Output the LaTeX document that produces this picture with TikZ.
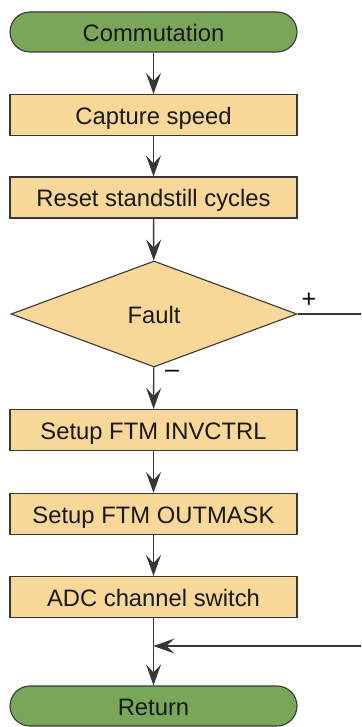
\documentclass[tikz,border=0pt]{standalone}
\usepackage{fontspec}
\setmainfont{Liberation Sans}
\usetikzlibrary{shapes.geometric,arrows.meta}
\definecolor{termgreen}{RGB}{122,166,90}
\definecolor{boxtan}{RGB}{247,216,152}
\definecolor{edge}{RGB}{55,55,55}
\begin{document}
\begin{tikzpicture}[x=1pt,y=-1pt,
  txt/.style={font=\fontsize{23.8}{26}\selectfont, text=black!90, text height=19pt, text depth=0pt},
  term/.style={txt, draw=edge, line width=1.1pt, fill=termgreen, rounded corners=20pt,
    minimum width=287pt, minimum height=40pt, inner sep=0pt},
  proc/.style={txt, draw=edge, line width=1.1pt, fill=boxtan,
    minimum width=287pt, minimum height=41pt, inner sep=0pt},
  dec/.style={txt, diamond, draw=edge, line width=1.1pt, fill=boxtan,
    minimum width=286pt, minimum height=106pt, inner sep=0pt},
  flow/.style={draw=edge, line width=1.4pt, -{Stealth[length=21pt,width=15pt,inset=8pt]}},
  line/.style={draw=edge, line width=1.4pt},
  sign/.style={font=\fontsize{25}{27}\selectfont, inner sep=0pt}]
\useasboundingbox (0,0) rectangle (361,727);
\node[term] (start) at (153.5,32) {Commutation};
\node[proc] (capt) at (153.5,115) {Capture speed};
\node[proc] (reset) at (153.5,197.5) {Reset standstill cycles};
\node[dec] (fault) at (154,314) {Fault};
\node[proc] (inv) at (153.5,430) {Setup FTM INVCTRL};
\node[proc] (mask) at (153.5,514) {Setup FTM OUTMASK};
\node[proc] (adc) at (153.5,597) {ADC channel switch};
\node[term] (ret) at (153.5,706) {Return};
\coordinate (faultout) at (361,314);
\coordinate (joinin) at (361,646);
\coordinate (join) at (153.5,646);
\path[flow] (start) -- (capt);
\path[flow] (capt) -- (reset);
\path[flow] (reset) -- (fault);
\path[flow] (fault) -- (inv);
\path[flow] (inv) -- (mask);
\path[flow] (mask) -- (adc);
\path[flow] (adc) -- (ret);
\path[line] (fault.east) -- (faultout);
\path[flow] (joinin) -- (join);
\node[sign] (plus) at (309,300) {+};
\node[sign] (minus) at (172,374) {\textendash};
\end{tikzpicture}
\end{document}
